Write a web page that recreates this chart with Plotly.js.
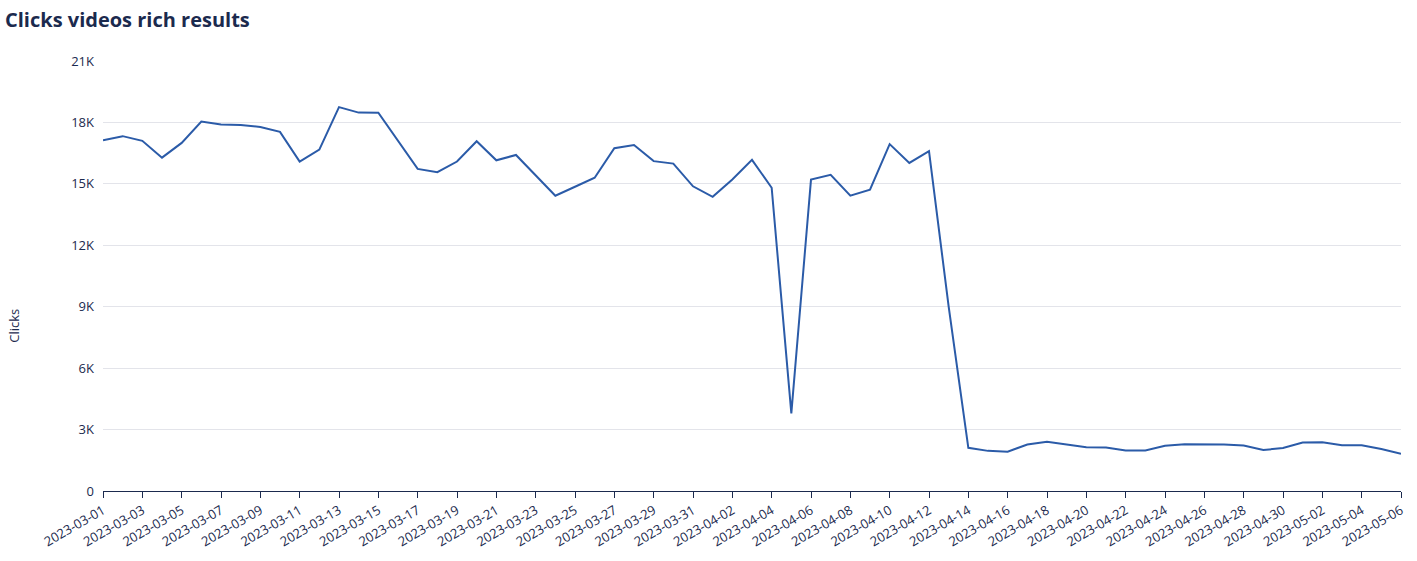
<!DOCTYPE html>
<html>
<head>
<meta charset="utf-8">
<script src="https://cdn.plot.ly/plotly-3.0.1.min.js"></script>
<style>html,body{margin:0;padding:0;background:#fff;}#chart{width:1417px;height:561px;}</style>
</head>
<body>
<div id="chart"></div>
<script>
const startDate = "2023-03-01";
const clicks = [
  17130, 17330, 17100, 16280, 17000, 18040, 17900, 17870, 17780, 17540,
  16090, 16670, 18750, 18480, 18470, 17110, 15730, 15570, 16090, 17080,
  16150, 16410, 15420, 14420, 14860, 15300, 16740, 16900, 16110, 15990,
  14880, 14370, 15210, 16170, 14810, 3790, 15210, 15440, 14420, 14720,
  16940, 16020, 16600, 9000, 2110, 1960, 1920, 2270, 2410, 2290,
  2140, 2130, 1980, 1980, 2210, 2280, 2290, 2270, 2220, 2000,
  2100, 2370, 2380, 2240, 2230, 2050, 1820
];
const yTickVals = [0, 3000, 6000, 9000, 12000, 15000, 18000, 21000];
const yTickText = ["0", "3K", "6K", "9K", "12K", "15K", "18K", "21K"];

function buildDates(start, n) {
  const out = [];
  const d0 = new Date(start + "T00:00:00Z");
  for (let i = 0; i < n; i++) {
    const d = new Date(d0.getTime() + i * 86400000);
    out.push(d.toISOString().slice(0, 10));
  }
  return out;
}
const dates = buildDates(startDate, clicks.length);

const navy = "#1b2a4e";
const trace = {
  x: dates, y: clicks, type: "scatter", mode: "lines",
  line: {color: "#2b5ba8", width: 2},
  hoverinfo: "x+y"
};
const layout = {
  width: 1417, height: 561,
  margin: {l: 103, r: 16, t: 61, b: 70, pad: 0},
  paper_bgcolor: "#fff", plot_bgcolor: "#fff",
  font: {family: "'Open Sans', 'Noto Sans', sans-serif", color: navy, size: 13},
  showlegend: false,
  title: {
    text: "<b>Clicks videos rich results</b>",
    font: {size: 20, color: navy, family: "'Open Sans', 'Noto Sans', sans-serif"},
    xref: "container", x: 5/1417, xanchor: "left",
    yref: "container", y: 1 - 20/561, yanchor: "middle"
  },
  xaxis: {
    type: "date",
    range: [dates[0], dates[dates.length - 1]],
    tick0: dates[0], dtick: 2 * 86400000,
    tickformat: "%Y-%m-%d", tickangle: -30,
    ticks: "outside", ticklen: 6, tickcolor: navy, tickwidth: 1,
    showline: true, linecolor: navy, linewidth: 1,
    showgrid: false, zeroline: false,
    tickfont: {size: 13, color: navy},
    automargin: false
  },
  yaxis: {
    range: [0, 21000],
    tickvals: yTickVals, ticktext: yTickText,
    showgrid: true, gridcolor: "#e3e4ea", gridwidth: 1,
    zeroline: false, showline: false, ticks: "",
    ticklabelstandoff: 8,
    tickfont: {size: 13, color: navy},
    automargin: false
  },
  annotations: [{
    text: "Clicks", textangle: -90, showarrow: false,
    xref: "paper", yref: "paper",
    x: (14 - 103) / 1298, y: (491.5 - 326) / 430.5,
    xanchor: "center", yanchor: "middle",
    font: {size: 13, color: navy}
  }]
};
Plotly.newPlot("chart", [trace], layout, {displayModeBar: false, staticPlot: true});
</script>
</body>
</html>
